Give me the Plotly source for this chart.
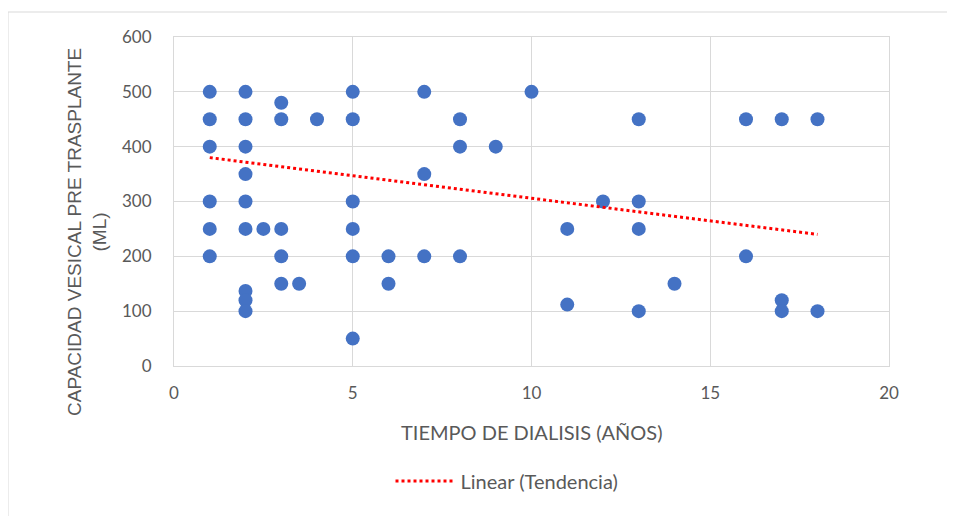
import plotly.graph_objects as go

# Data
years = [1, 1, 1, 1, 1, 1,
         2, 2, 2, 2, 2, 2, 2, 2, 2,
         2.5,
         3, 3, 3, 3, 3,
         3.5,
         4,
         5, 5, 5, 5, 5, 5,
         6, 6,
         7, 7, 7,
         8, 8, 8,
         9,
         10,
         11, 11,
         12,
         13, 13, 13, 13,
         14,
         16, 16,
         17, 17, 17,
         18, 18]
capacity = [500, 450, 400, 300, 250, 200,
            500, 450, 400, 350, 300, 250, 137, 120, 100,
            250,
            480, 450, 250, 200, 150,
            150,
            450,
            500, 450, 300, 250, 200, 50,
            200, 150,
            500, 350, 200,
            450, 400, 200,
            400,
            500,
            250, 112,
            300,
            450, 300, 250, 100,
            150,
            450, 200,
            450, 120, 100,
            450, 100]

# Linear trend line as drawn in the reference
trend_x = [1, 18]
trend_y = [380, 240]

x_ticks = [0, 5, 10, 15, 20]
y_ticks = [0, 100, 200, 300, 400, 500, 600]

W, H = 955, 516
OFF = 8  # page body margin
L, R, T, B = 174 - OFF, W - (889 - OFF), 37 - OFF, H - (366 - OFF)

fig = go.Figure()
fig.add_trace(go.Scatter(
    x=years, y=capacity, mode="markers",
    marker=dict(size=14, color="#4472C4"),
    showlegend=False, hoverinfo="x+y"))
fig.add_trace(go.Scatter(
    x=trend_x, y=trend_y, mode="lines",
    line=dict(color="#FF0000", width=3, dash="dot"),
    name="Linear (Tendencia)", showlegend=True))

axis_common = dict(showgrid=True, gridcolor="#D9D9D9", gridwidth=1,
                   zeroline=False, showline=True, linecolor="#D9D9D9",
                   linewidth=1, mirror=True, ticks="",
                   tickfont=dict(family="Lato", size=17, color="#595959"))

fig.update_xaxes(range=[0, 20], tickvals=x_ticks, ticklabelstandoff=12, **axis_common)
fig.update_yaxes(range=[0, 600], tickvals=y_ticks, ticklabelstandoff=18, **axis_common)

pw = W - L - R
ph = H - T - B
def px_x(p):
    return (p - OFF - L) / pw
def px_y(p):
    return (H - B - (p - OFF)) / ph

fig.update_layout(
    width=W, height=H,
    margin=dict(l=L, r=R, t=T, b=B),
    paper_bgcolor="white", plot_bgcolor="white",
    font=dict(family="Lato", color="#595959"),
    legend=dict(orientation="h", x=px_x(507), xanchor="center",
                y=px_y(481), yanchor="middle", itemwidth=60,
                font=dict(family="Lato", size=20, color="#595959"),
                bgcolor="rgba(0,0,0,0)"),
    annotations=[
        dict(text="TIEMPO DE DIALISIS (AÑOS)", xref="paper", yref="paper",
             x=px_x(532), y=px_y(432), xanchor="center", yanchor="middle",
             showarrow=False,
             font=dict(family="Lato", size=20, color="#595959")),
        dict(text="CAPACIDAD VESICAL PRE TRASPLANTE<br>(ML)", xref="paper", yref="paper",
             x=px_x(87), y=px_y(232), xanchor="center", yanchor="middle",
             textangle=-90, showarrow=False,
             font=dict(family="Liberation Sans", size=19, color="#595959")),
    ],
    shapes=[
        dict(type="line", xref="paper", yref="paper",
             x0=px_x(8), x1=px_x(960), y0=px_y(12), y1=px_y(12),
             line=dict(color="#D9D9D9", width=1)),
        dict(type="line", xref="paper", yref="paper",
             x0=px_x(8), x1=px_x(8), y0=px_y(12), y1=px_y(520),
             line=dict(color="#D9D9D9", width=1)),
    ],
)

fig.write_html("out.html")
